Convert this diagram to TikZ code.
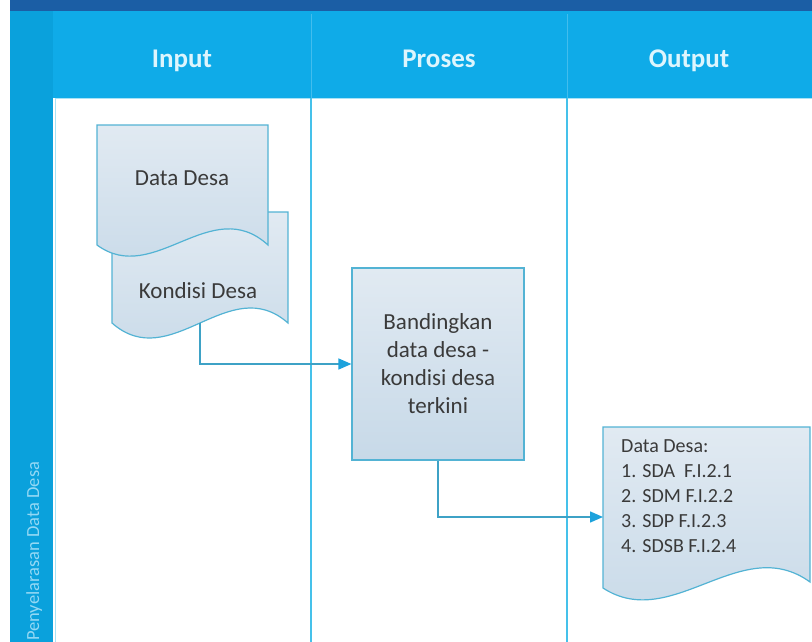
\documentclass[tikz,border=0pt]{standalone}
\usepackage{fontspec}
\setmainfont{Carlito}
\usetikzlibrary{arrows.meta}

\definecolor{bandDark}{HTML}{1B5EA5}
\definecolor{hdrCyan}{HTML}{0FABE8}
\definecolor{stripCyan}{HTML}{0AA1DC}
\definecolor{hdrText}{HTML}{DDF5FD}
\definecolor{stripText}{HTML}{93D8F4}
\definecolor{laneLine}{HTML}{45C1EA}
\definecolor{laneEdge}{HTML}{A8E2F6}
\definecolor{docTop}{HTML}{E1EAF2}
\definecolor{docBot}{HTML}{C7D9E8}
\definecolor{docLine}{HTML}{53B3D4}
\definecolor{connLine}{HTML}{3EA2C6}
\definecolor{arrowC}{HTML}{1DA2DC}
\definecolor{txt}{HTML}{3A3A3A}

\newcommand\hdrfont{\bfseries\fontsize{27}{32}\selectfont}
\newcommand\docfont{\fontsize{23}{28}\selectfont}
\newcommand\listfont{\fontsize{20}{25}\selectfont}
\newcommand\stripfont{\fontsize{18.5}{22}\selectfont}

\tikzset{
  docfill/.style={top color=docTop, bottom color=docBot, draw=docLine, line width=1.2pt},
  procbox/.style={rectangle, docfill, minimum width=172pt, minimum height=192pt,
    align=center, font=\docfont, text=txt, inner sep=0pt},
  doctext/.style={font=\docfont, text=txt, inner sep=0pt},
  listtext/.style={font=\listfont, text=txt, align=left, inner sep=0pt},
  hdr/.style={font=\hdrfont, text=hdrText, inner sep=0pt},
  lane/.style={draw=laneLine, line width=1.5pt},
  conn/.style={draw=connLine, line width=1.4pt,
    -{Triangle[length=13pt,width=11pt,color=arrowC]}},
}

\begin{document}
\begin{tikzpicture}[x=1pt,y=-1pt]
\useasboundingbox (0,0) rectangle (812,642);
\fill[white] (0,0) rectangle (812,642);

% title band, header row and pool label strip
\fill[bandDark] (10,0) rectangle (812,11);
\fill[stripCyan] (10,11) rectangle (53,642);
\fill[hdrCyan] (53,11) rectangle (812,98);
\fill[white] (53,98) rectangle (812,642);
\draw[laneEdge, line width=1pt] (55,642) -- (55,99) -- (812,99);

% lane dividers
\draw[lane] (311,98) -- (311,642);
\draw[lane] (567,98) -- (567,642);
\draw[draw=hdrText, opacity=0.25, line width=1pt] (311,14) -- (311,98);
\draw[draw=hdrText, opacity=0.25, line width=1pt] (567,14) -- (567,98);

% lane headings
\node[hdr, anchor=base] (hIn)   at (182,67) {Input};
\node[hdr, anchor=base] (hProc) at (439,67) {Proses};
\node[hdr, anchor=base] (hOut)  at (689,67) {Output};

% pool label
\node[font=\stripfont, text=stripText, rotate=90, anchor=base west, inner sep=0pt]
  (pool) at (39,641) {Penyelarasan Data Desa};

% document: Kondisi Desa (behind)
\draw[docfill] (112,212) -- (288,212) -- (288,323)
  .. controls (229,323-52) and (171,323+52) .. (112,323) -- cycle;
\node[doctext, anchor=base] (kondisi) at (198,298) {Kondisi Desa};
\coordinate (kdOut) at (200,323);

% document: Data Desa (front)
\draw[docfill] (97,125) -- (268,125) -- (268,245)
  .. controls (211,245-52) and (154,245+42) .. (97,245) -- cycle;
\node[doctext, anchor=base] (dataDesa) at (182,185) {Data Desa};

% process
\node[procbox] (proc) at (438,364) {Bandingkan\\data desa -\\kondisi desa\\terkini};

% output document
\draw[docfill] (603,427) -- (810,427) -- (810,582)
  .. controls (741,582-50) and (672,588+45) .. (603,588) -- cycle;
\node[listtext, anchor=north west] (outList) at (621,439)
  {Data Desa:\\1. SDA\ \ F.I.2.1\\2. SDM F.I.2.2\\3. SDP F.I.2.3\\4. SDSB F.I.2.4};
\coordinate (outIn) at (603,517);

% flow
\draw[conn] (kdOut) |- (proc.west);
\draw[conn] (proc.south) |- (outIn);
\end{tikzpicture}
\end{document}
